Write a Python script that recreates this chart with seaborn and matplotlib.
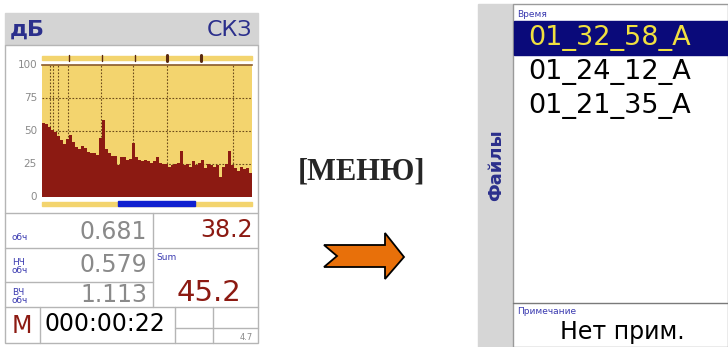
import numpy as np
import pandas as pd
import seaborn as sns
import matplotlib.pyplot as plt
from matplotlib.patches import Rectangle, Polygon

# spectrum levels, dB (one bar per band)
spectrum_db = [56, 55, 53, 51, 49, 46, 43, 40, 44, 47,
               42, 38, 36, 39, 37, 34, 33, 33, 32, 45,
               58, 36, 33, 31, 31, 24, 30, 30, 28, 29,
               41, 30, 28, 27, 28, 27, 26, 27, 30, 26,
               25, 25, 23, 24, 25, 26, 35, 24, 25, 23,
               27, 24, 26, 28, 22, 25, 24, 23, 24, 15,
               23, 25, 35, 24, 22, 20, 23, 21, 22, 18]
y_ticks = [0, 25, 50, 75, 100]

header_left = "дБ"
header_right = "СКЗ"
rms_values = ["0.681", "0.579", "1.113"]
row_labels = ["обч", "НЧ\nобч", "ВЧ\nобч"]
level_top = "38.2"
level_sum = "45.2"
timer = "000:00:22"
small_value = "4.7"

files = ["01_32_58_A", "01_24_12_A", "01_21_35_A"]
note = "Нет прим."

sns.set_style("white")
plt.rcParams['font.family'] = ['DejaVu Sans']

W, H = 728, 347
fig = plt.figure(figsize=(W / 100, H / 100), dpi=100)

def px_rect(x0, y0, x1, y1):
    return [x0 / W, 1 - y1 / H, (x1 - x0) / W, (y1 - y0) / H]

# overlay in pixel coordinates
ov = fig.add_axes([0, 0, 1, 1])
ov.set_xlim(0, W)
ov.set_ylim(H, 0)
ov.axis("off")

navy = "#2b2f8c"
dark_red = "#8c1a12"
yellow = "#f3d46e"

# ---- left screen ----
ov.add_patch(Rectangle((5, 13), 253, 32, color="#d4d4d4", zorder=1))
ov.text(10, 30, header_left, color=navy, fontsize=16, fontweight="bold", va="center")
ov.text(252, 30, header_right, color=navy, fontsize=16, ha="right", va="center")
ov.add_patch(Rectangle((5, 45), 253, 298, facecolor="white", edgecolor="#b5b5b5", lw=1, zorder=1))

# top marker strip
ov.add_patch(Rectangle((42, 56), 210, 4, color=yellow, zorder=2))
for xm, bold in [(69, False), (102, False), (135, False), (167, True), (201, True)]:
    ov.plot([xm, xm], [55, 61], color="#5a2a10", lw=2.2 if bold else 1, zorder=3)

# bottom strip with blue selection
ov.add_patch(Rectangle((42, 202), 210, 4, color=yellow, zorder=2))
ov.add_patch(Rectangle((118, 201), 77, 5, color="#1020d0", zorder=3))

# spectrum
ax = fig.add_axes(px_rect(42, 65, 252, 197))
df = pd.DataFrame({"band": np.arange(len(spectrum_db)), "db": spectrum_db})
sns.barplot(data=df, x="band", y="db", color=dark_red, width=1.0, saturation=1,
            linewidth=0, ax=ax)
ax.set_facecolor(yellow)
ax.set_ylim(0, 100)
ax.set_xlim(-0.5, len(spectrum_db) - 0.5)
ax.set_xticks([])
ax.set_yticks([])
ax.set_xlabel("")
ax.set_ylabel("")
for yv in y_ticks[1:-1]:
    ax.axhline(yv, color="#6b4a1a", ls=(0, (1.5, 1.5)), lw=0.8, zorder=0.5)
for xg in [2.2, 3.2, 4.8, 8.3, 19.2, 29.8, 41.2, 63.2]:
    ax.axvline(xg, color="#6b4a1a", ls=(0, (1.5, 1.5)), lw=0.8, zorder=0.5)
for s in ax.spines.values():
    s.set_visible(False)
ax.spines["top"].set_visible(True)
ax.spines["top"].set_color("#8a5a2a")
ax.spines["top"].set_linewidth(1.2)
ax.set_axisbelow(True)
ax.patch.set_zorder(0)
for yv in y_ticks:
    ov.text(37, 197 - yv * 1.32, str(yv), color="#8a8a8a", fontsize=7.5, ha="right", va="center")

# table lines
gl = dict(color="#b5b5b5", lw=1, zorder=2)
ov.plot([5, 258], [213, 213], **gl)
ov.plot([5, 258], [248, 248], **gl)
ov.plot([5, 153], [282, 282], **gl)
ov.plot([5, 258], [307, 307], **gl)
ov.plot([153, 153], [213, 307], **gl)
ov.plot([40, 40], [307, 343], **gl)
ov.plot([175, 175], [307, 343], **gl)
ov.plot([213, 213], [307, 343], **gl)
ov.plot([175, 258], [328, 328], **gl)

row_mid = [232, 265, 295]
for lab, val, ym in zip(row_labels, rms_values, row_mid):
    ov.text(12, ym + 10, lab, color="#3a3ab0", fontsize=6.5, va="bottom", linespacing=0.9)
    ov.text(147, ym, val, color="#8a8a8a", fontsize=17, ha="right", va="center")
ov.text(253, 230, level_top, color=dark_red, fontsize=17, ha="right", va="center")
ov.text(156, 258, "Sum", color="#3a3ab0", fontsize=6.5, va="center")
ov.text(241, 293, level_sum, color=dark_red, fontsize=21, ha="right", va="center")
ov.text(22, 326, "M", color=dark_red, fontsize=17, ha="center", va="center")
ov.text(44, 324, timer, color="black", fontsize=17, ha="left", va="center")
ov.text(246, 337, small_value, color="#8a8a8a", fontsize=6, ha="center", va="center")

# ---- middle ----
ov.text(361, 172, "[МЕНЮ]", family="Liberation Serif", fontweight="bold", fontsize=22,
        ha="center", va="center")
arrow = [(324, 245), (385, 245), (385, 233), (404, 257), (385, 279),
         (385, 267), (324, 267), (337, 256)]
ov.add_patch(Polygon(arrow, closed=True, facecolor="#e8700a", edgecolor="black", lw=1.3, zorder=3))

# ---- right screen ----
ov.add_patch(Rectangle((478, 4), 35, 343, color="#d6d6d6", zorder=1))
ov.text(496, 165, "Файлы", color=navy, fontsize=13, fontweight="bold", rotation=90,
        ha="center", va="center")
ov.add_patch(Rectangle((513, 4), 215, 343, facecolor="white", edgecolor="#9a9a9a", lw=1, zorder=1))
ov.text(517, 14, "Время", color="#3a3ab0", fontsize=6.5, va="center")
ov.add_patch(Rectangle((514, 21), 214, 34, color="#0a0a7a", zorder=2))
for i, name in enumerate(files):
    ov.text(528, 38 + i * 34, name, color="#f0e040" if i == 0 else "black",
            fontsize=19.5, ha="left", va="center", zorder=3)
ov.plot([513, 728], [303, 303], color="#7a7a7a", lw=1, zorder=2)
ov.text(517, 312, "Примечание", color="#3a3ab0", fontsize=6.5, va="center")
ov.text(622, 332, note, color="black", fontsize=17, ha="center", va="center")

fig.savefig("out.png", dpi=100)
